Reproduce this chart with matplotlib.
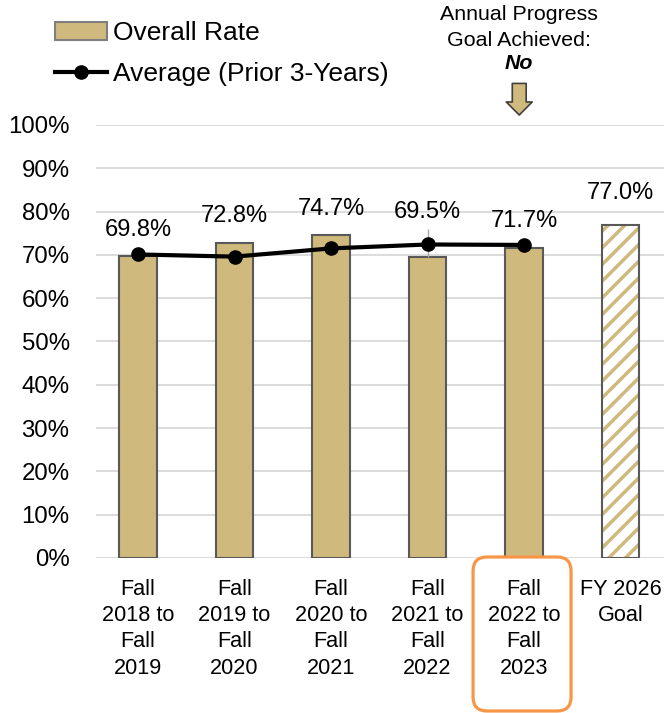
import matplotlib
matplotlib.use("Agg")
import matplotlib.pyplot as plt
from matplotlib.lines import Line2D
from matplotlib.patches import Patch, FancyBboxPatch
from matplotlib.ticker import PercentFormatter
from matplotlib.transforms import IdentityTransform

plt.rcParams["font.family"] = ["Liberation Sans", "DejaVu Sans"]
plt.rcParams["hatch.linewidth"] = 2.5

categories = [
    "Fall\n2018 to\nFall\n2019",
    "Fall\n2019 to\nFall\n2020",
    "Fall\n2020 to\nFall\n2021",
    "Fall\n2021 to\nFall\n2022",
    "Fall\n2022 to\nFall\n2023",
    "FY 2026\nGoal",
]
overall_rate = [69.8, 72.8, 74.7, 69.5, 71.7]
goal_rate = 77.0
prior_3yr_avg = [70.1, 69.6, 71.5, 72.4, 72.3]

GOLD = "#CFB97D"
EDGE = "#595959"
GRID = "#D9D9D9"

fig = plt.figure(figsize=(6.64, 7.13), dpi=100)
ax = fig.add_axes([0.1446, 0.2174, 0.8554, 0.6073])

xs = list(range(len(overall_rate)))
goal_x = len(overall_rate)
w = 0.39

ax.bar(xs, overall_rate, width=w, color=GOLD, edgecolor=EDGE, linewidth=1.5, zorder=2)
ax.bar(goal_x, goal_rate, width=w, color="white", edgecolor=GOLD, hatch="//", linewidth=0, zorder=2)
ax.bar(goal_x, goal_rate, width=w, color="none", edgecolor=EDGE, linewidth=1.5, zorder=3)
# stray error-bar tick that shows in the original
ax.vlines(3, overall_rate[3], 76, color="#A6A6A6", lw=1, zorder=3)
ax.plot(xs, prior_3yr_avg, color="black", lw=3, marker="o", ms=9.5, zorder=4)

# data labels (pixel offsets above the bar tops, as in the source)
label_px = [26, 27, 25.5, 45, 26.5]
for x, v, off in zip(xs, overall_rate, label_px):
    ax.annotate(f"{v:.1f}%", (x, v), xytext=(0, off * 0.72), textcoords="offset points",
                ha="center", va="center", fontsize=17)
ax.annotate(f"{goal_rate:.1f}%", (goal_x, goal_rate), xytext=(0, 31.5 * 0.72),
            textcoords="offset points", ha="center", va="center", fontsize=17)

ax.set_ylim(0, 100)
ax.set_xlim(-0.435, 5.45)
ax.set_yticks(range(0, 101, 10))
ax.yaxis.set_major_formatter(PercentFormatter(decimals=0))
ax.set_xticks(range(len(categories)))
ax.set_xticklabels(categories, fontsize=15.6, linespacing=1.33)
ax.tick_params(axis="y", length=0, pad=19, labelsize=17.3)
ax.tick_params(axis="x", length=0, pad=15)
ax.grid(axis="y", color=GRID, lw=1.3, zorder=0)
ax.set_axisbelow(True)
for s in ax.spines.values():
    s.set_visible(False)

# annual progress callout
ax.text(3.95, 125.6, "Annual Progress", ha="center", va="center", fontsize=15.4, clip_on=False)
ax.text(3.95, 119.4, "Goal Achieved:", ha="center", va="center", fontsize=15.4, clip_on=False)
ax.text(3.95, 114.1, "No", ha="center", va="center", fontsize=15.4, fontweight="bold",
        fontstyle="italic", clip_on=False)
ax.annotate("", xy=(3.95, 102.3), xytext=(3.95, 109.6), annotation_clip=False,
            arrowprops=dict(arrowstyle="simple,head_width=18.7,head_length=9.4,tail_width=10",
                            mutation_scale=1, fc=GOLD, ec="#404040", lw=1.2,
                            shrinkA=0, shrinkB=0))

# legend
handles = [
    Patch(facecolor=GOLD, edgecolor="#7F7F7F", linewidth=1.5, label="Overall Rate"),
    Line2D([], [], color="black", lw=3, marker="o", ms=9.5, label="Average (Prior 3-Years)"),
]
fig.legend(handles=handles, loc="upper left", bbox_to_anchor=(0.0828, 0.970), frameon=False,
           fontsize=19, borderpad=0, borderaxespad=0, handlelength=1.97,
           handletextpad=0.23, labelspacing=0.63)

# orange highlight round the current period label
cx = ax.transData.transform((4, 0))[0]
box = FancyBboxPatch((cx - 51, 2), 98, 154, boxstyle="round,pad=0,rounding_size=14",
                     fill=False, edgecolor="#F79646", lw=2.3, transform=IdentityTransform())
fig.patches.append(box)

fig.savefig("out.png", dpi=100)
